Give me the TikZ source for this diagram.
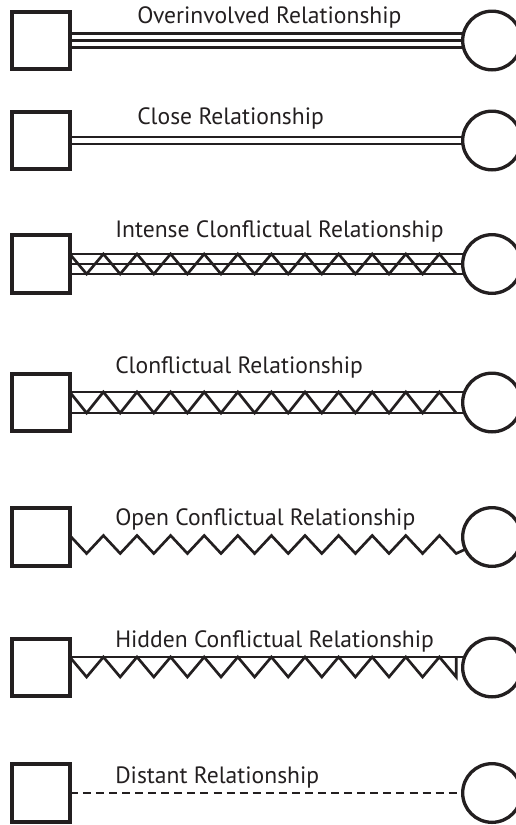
\documentclass[tikz,border=0pt]{standalone}
\usepackage{fontspec}
\setmainfont{PT Sans}
\usetikzlibrary{calc,backgrounds}
\definecolor{ink}{HTML}{231F20}
\begin{document}
\begin{tikzpicture}[x=0.75pt,y=-0.75pt,
  sq/.style={draw=ink,line width=2.8pt,fill=white,minimum size=43.2pt,inner sep=0pt,outer sep=0pt},
  ci/.style={circle,draw=ink,line width=2.5pt,fill=white,minimum size=44pt,inner sep=0pt,outer sep=0pt},
  conn/.style={draw=ink,line width=2pt,line join=miter},
  lbl/.style={anchor=base west,text=ink,font=\fontsize{17.7}{20}\selectfont,inner sep=0pt}]
\useasboundingbox (0,0) rectangle (515,825);
% nodes
\node[sq] (s1) at (41,40.5) {};   \node[ci] (c1) at (492,40.5) {};
\node[sq] (s2) at (41,140.5) {};  \node[ci] (c2) at (492,140.5) {};
\node[sq] (s3) at (41,264) {};    \node[ci] (c3) at (492,264) {};
\node[sq] (s4) at (41,402.5) {};  \node[ci] (c4) at (492,402.5) {};
\node[sq] (s5) at (41,537) {};    \node[ci] (c5) at (492,537) {};
\node[sq] (s6) at (41,667.5) {};  \node[ci] (c6) at (492,667.5) {};
\node[sq] (s7) at (41,793) {};    \node[ci] (c7) at (492,793) {};
% labels
\node[lbl] (t1) at (137,23) {Overinvolved Relationship};
\node[lbl] (t2) at (137,124) {Close Relationship};
\node[lbl] (t3) at (115,237) {Intense Clonflictual Relationship};
\node[lbl] (t4) at (115,373) {Clonflictual Relationship};
\node[lbl] (t5) at (115,525) {Open Conflictual Relationship};
\node[lbl] (t6) at (115,647) {Hidden Conflictual Relationship};
\node[lbl] (t7) at (115,783) {Distant Relationship};
\begin{pgfonlayer}{background}
% 1 overinvolved
\foreach \d in {-6.7,0,6.7}
  \draw[conn] ($(s1.east)+(0,\d)$) -- ($(c1.center)+(0,\d)$);
% 2 close
\foreach \d in {-3.5,3.5}
  \draw[conn] ($(s2.east)+(0,\d)$) -- ($(c2.center)+(0,\d)$);
% 3 intense conflictual
\foreach \d in {-10,0,10}
  \draw[conn] ($(s3.east)+(0,\d)$) -- ($(c3.center)+(0,\d)$);
\draw[conn] ($(s3.east)+(0,-10)$)
  foreach \i in {1,...,23} { -- ++(16.8,{20*(2*mod(\i,2)-1)}) };
% 4 conflictual
\foreach \d in {-10.5,10.5}
  \draw[conn] ($(s4.east)+(0,\d)$) -- ($(c4.center)+(0,\d)$);
\draw[conn] ($(s4.east)+(0,-10.5)$)
  foreach \i in {1,...,23} { -- ++(16.8,{21*(2*mod(\i,2)-1)}) };
% 5 open conflictual
\draw[conn] ($(s5.east)+(0,-1.5)$)
  foreach \i in {1,...,23} { -- ++(16.8,{18*(2*mod(\i,2)-1)}) } -- (c5.center);
% 6 hidden conflictual
\draw[conn] ($(s6.east)+(0,-10.5)$) -- ($(c6.center)+(0,-10.5)$);
\draw[conn] ($(s6.east)+(0,-10.5)$)
  foreach \i in {1,...,23} { -- ++(16.8,{20*(2*mod(\i,2)-1)}) } -- ++(0,-20);
% 7 distant
\draw[conn,line width=2.2pt,dash pattern=on 6pt off 3.8pt] (s7.east) -- (c7.center);
\end{pgfonlayer}
\end{tikzpicture}
\end{document}
